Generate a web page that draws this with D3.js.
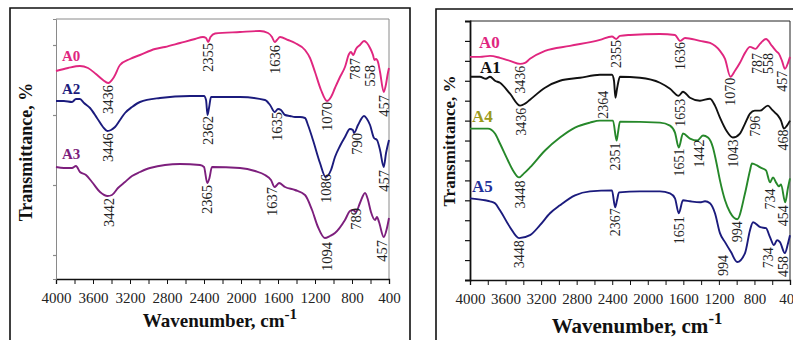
<!DOCTYPE html>
<html>
<head>
<meta charset="utf-8">
<script src="https://cdn.jsdelivr.net/npm/d3@7"></script>
<style>
  body { margin: 0; background: #fff; }
  svg { display: block; }
  text { font-family: "Liberation Serif", "Times New Roman", serif; }
</style>
</head>
<body>
<svg id="chart" width="793" height="340"></svg>
<script>
// ---------- data: FTIR spectra, [wavenumber cm-1, transmittance (offset, a.u.)] ----------
const wavenumberTicks = [4000, 3600, 3200, 2800, 2400, 2000, 1600, 1200, 800, 400];
const wavenumberMinorTicks = [3800, 3400, 3000, 2600, 2200, 1800, 1400, 1000, 600];

// left panel
const leftA0 = [[4000,104],[3870,105.5],[3741,106.5],[3654,105.5],[3568,102.5],[3492,99.5],[3436,98],[3373,101],[3308,107],[3200,110],[3092,112],[2930,115],[2822,116],[2659,118],[2497,120],[2411,121],[2378,120.5],[2355,118.5],[2330,121],[2281,122.75],[2011,123.5],[1795,124],[1708,123],[1665,121],[1636,118.5],[1611,119.5],[1578,121],[1492,119.5],[1416,118],[1308,114.5],[1254,110.5],[1200,103.5],[1135,94.5],[1070,89],[1027,91],[984,95.5],[930,101],[876,106],[832,112.5],[811,113.5],[787,112],[757,115],[714,117],[670,119],[638,118],[605,115.5],[573,112],[558,109.5],[541,110],[519,108.5],[497,103.5],[457,93.5],[432,97.5],[416,102],[400,105.5]];
const leftA2 = [[4000,89],[3914,89],[3827,88.5],[3784,90],[3741,90],[3697,88],[3632,85.5],[3557,80.5],[3492,76],[3446,74],[3405,74.5],[3362,76],[3308,79.5],[3254,83],[3178,86],[3092,88.5],[2876,90.5],[2551,91.5],[2400,91.5],[2378,89.5],[2362,82],[2346,85.5],[2324,91],[2011,91],[1741,89.5],[1686,87],[1635,83.5],[1600,85],[1568,84.5],[1524,82],[1470,81.5],[1416,81],[1362,81],[1308,80.5],[1276,77],[1222,69.5],[1146,58],[1086,51],[1027,54.5],[984,61],[930,66.5],[876,71],[822,75],[790,74.5],[778,73],[735,77],[670,81.5],[638,80],[605,77],[562,70.5],[530,69.5],[497,64.5],[457,56],[432,63],[400,69.5]];
const leftA3 = [[4000,56],[3914,55.5],[3827,55.5],[3784,56.5],[3741,53.5],[3676,52],[3611,48.5],[3524,43.5],[3442,41.5],[3395,42],[3330,45.5],[3254,48.5],[3178,51.5],[3092,53.5],[2984,55.5],[2659,57.5],[2443,57],[2400,56],[2365,48],[2341,50.5],[2314,56],[2011,55.5],[1849,54],[1741,52],[1676,49.5],[1637,46],[1611,47],[1589,48],[1524,46],[1416,44.5],[1308,42],[1232,34.5],[1168,26],[1094,20.5],[1038,21.5],[984,23],[876,29.5],[822,34],[789,34.5],[757,33.5],[714,38],[659,43],[627,39.5],[595,33.5],[551,29.5],[530,31],[508,28.5],[457,21],[422,25.5],[400,30.5]];

// right panel
const rightA0 = [[4000,112],[3888,112],[3775,112.5],[3663,111.5],[3550,110],[3436,108.5],[3381,109],[3325,111],[3156,115],[2875,117.5],[2538,120.5],[2403,122.25],[2355,121],[2313,122.5],[2200,123],[1863,123.5],[1694,123],[1636,120],[1581,121.5],[1413,120],[1300,119],[1188,115],[1131,111],[1070,102],[1019,105],[963,109],[906,114],[850,117],[787,116],[738,118.5],[670,121],[603,117.5],[558,115],[524,113.5],[490,110],[457,106],[422,109],[400,112]];
const rightA1 = [[4000,102],[3888,102],[3820,101],[3775,102],[3719,100],[3663,99],[3550,93.5],[3436,87.5],[3381,88.5],[3325,90.5],[3156,96.5],[2988,100],[2763,101.5],[2538,103],[2403,103],[2380,100],[2364,91.5],[2346,96],[2313,102],[2088,101.5],[1863,99],[1750,96],[1653,92.5],[1604,94.5],[1525,91.5],[1413,90],[1300,91],[1244,87.5],[1188,81.5],[1109,74.5],[1043,71.5],[963,73.5],[906,78.5],[850,83.5],[796,85],[738,85],[648,87.5],[603,85.5],[569,84],[535,82.5],[501,80],[468,76],[434,77.5],[400,80]];
const rightA4 = [[4000,76],[3888,76],[3798,76],[3719,73.5],[3663,68.5],[3573,60],[3516,55],[3448,51.5],[3393,53.5],[3325,56.5],[3156,65],[2988,71.5],[2819,76.5],[2650,79],[2538,80],[2391,80],[2351,70],[2335,74],[2313,79.5],[1863,79],[1750,77.5],[1694,74],[1651,66.5],[1604,73.5],[1525,71],[1442,70],[1379,72.5],[1323,71.5],[1267,66.5],[1233,60],[1188,50],[1131,40],[1075,34],[994,30.5],[906,43.5],[850,55],[828,58.5],[771,57.5],[734,56.5],[670,55],[625,49],[591,51.5],[558,49],[524,47],[501,48],[454,39],[422,46.5],[400,51]];
const rightA5 = [[4000,41],[3831,40],[3775,39.5],[3719,38.5],[3663,35],[3550,26.5],[3448,21],[3325,22.5],[3213,27.5],[3100,33.5],[2988,37.5],[2819,42.5],[2650,44.5],[2403,45],[2367,36.5],[2346,40],[2324,44],[2088,44.5],[1863,44.5],[1750,43.5],[1694,41],[1651,33.5],[1604,40],[1525,39.5],[1413,39],[1356,39.5],[1300,38.5],[1244,33.5],[1188,23.5],[1131,19],[1064,14],[994,9],[906,13.5],[850,25],[816,29],[734,26.5],[670,26],[625,21.5],[580,17.5],[546,20],[513,19],[458,13.5],[422,18.5],[400,22.5]];

// series names and annotated band positions (cm-1)
const leftNames = ["A0", "A2", "A3"];
const rightNames = ["A0", "A1", "A4", "A5"];
const leftBands = {
  A0: [3436, 2355, 1636, 1070, 787, 558, 457],
  A2: [3446, 2362, 1635, 1086, 790, 457],
  A3: [3442, 2365, 1637, 1094, 789, 457]
};
const rightBands = {
  A0: [3436, 2355, 1636, 1070, 787, 558, 457],
  A1: [3436, 2364, 1653, 1043, 796, 468],
  A4: [3448, 2351, 1651, 1442, 994, 734, 454],
  A5: [3448, 2367, 1651, 994, 734, 458]
};
const leftYTicks = [12, 47, 82, 117];
const rightYTicks = [10, 20, 30, 40, 50, 60, 70, 80, 90, 100, 110, 120];

// ---------- drawing ----------
const svg = d3.select("#chart");
const serif = '"Liberation Serif", "Times New Roman", serif';

const lineColor = { A0: "#e0267f", A1: "#111111", A2: "#1b1b7d", A3: "#7d1f7d", A4: "#26882a", A5: "#1b1b7d" };
const nameColor = { A0: "#e0267f", A1: "#111111", A2: "#1b1b7d", A3: "#7d1f7d", A4: "#9c9a1c", A5: "#23309a" };

// band label placement: [dx px, gap below the curve px]
const bandNudge = {
  "L:A0:787": [2, 3], "L:A0:558": [-4, 5], "L:A0:457": [0, 3], "L:A0:1636": [0, 3], "L:A0:2355": [0, 1], "L:A0:1070": [0, 1],
  "L:A2:3446": [1, 2], "L:A2:2362": [0, 1], "L:A2:1635": [2, 0], "L:A2:1086": [0, -3], "L:A2:790": [4, 3], "L:A2:457": [0, 3],
  "L:A3:3442": [1, 2], "L:A3:2365": [0, 2], "L:A3:1637": [-3, 0], "L:A3:1094": [2, 4], "L:A3:789": [3, -2], "L:A3:457": [-2, 3],
  "R:A0:2355": [0, 1], "R:A0:1636": [0, 1], "R:A0:1070": [0, 1], "R:A0:787": [1.5, 4], "R:A0:558": [-8, 2], "R:A0:457": [-3, 2],
  "R:A1:3436": [1, 2], "R:A1:2364": [-12, -7], "R:A1:1653": [1.5, 3], "R:A1:796": [0, 5], "R:A1:468": [-1, 1],
  "R:A4:3448": [1, 3], "R:A4:2351": [-1, 2], "R:A4:1651": [0, 1], "R:A4:1442": [1.5, -1], "R:A4:734": [10, 21], "R:A4:454": [-2, 3],
  "R:A5:2367": [0, 1], "R:A5:1651": [0, 3], "R:A5:994": [-14, -7], "R:A5:734": [8, 20], "R:A5:458": [-2, 3]
};

function valueAt(series, wn) {
  for (let i = 0; i < series.length - 1; i++) {
    const [w0, v0] = series[i], [w1, v1] = series[i + 1];
    if (wn <= w0 && wn >= w1) return v0 + (v1 - v0) * (w0 - wn) / (w0 - w1);
  }
  return series[series.length - 1][1];
}

function drawPanel(cfg) {
  const x = d3.scaleLinear().domain([4000, 400]).range([cfg.left, cfg.right]);
  const y = d3.scaleLinear().domain([0, 130]).range([cfg.bottom, cfg.top]);
  const g = svg.append("g");

  // outer panel border
  g.append("path")
    .attr("d", `M${cfg.boxLeft},345 V${cfg.boxTop} H${cfg.boxRight}` + (cfg.boxRight < 793 ? " V345" : ""))
    .attr("fill", "none").attr("stroke", "#111").attr("stroke-width", 1.6);

  // plot frame (top and right)
  g.append("path")
    .attr("d", `M${cfg.left},${cfg.top} H${cfg.right} V${cfg.bottom}`)
    .attr("fill", "none").attr("stroke", cfg.frameColor).attr("stroke-width", 1);

  // x axis
  const xAxis = d3.axisBottom(x)
    .tickValues(wavenumberTicks.concat(wavenumberMinorTicks))
    .tickSize(5)
    .tickFormat(d => wavenumberTicks.includes(d) ? d : "");
  const gx = g.append("g").attr("transform", `translate(0,${cfg.bottom})`).call(xAxis);
  gx.select(".domain").attr("stroke", "#111").attr("stroke-width", 1.3);
  gx.selectAll(".tick line").attr("stroke", "#111").attr("stroke-width", 1);
  gx.selectAll(".tick text").attr("font-family", serif).attr("font-size", 15).attr("fill", "#222").attr("dy", "1.05em");

  // y axis (no labels)
  const yAxis = d3.axisLeft(y).tickValues(cfg.yTicks).tickSize(cfg.yTickSize).tickFormat("");
  const gy = g.append("g").attr("transform", `translate(${cfg.left},0)`).call(yAxis);
  gy.select(".domain").attr("stroke", cfg.yAxisColor).attr("stroke-width", cfg.yAxisWidth);
  gy.selectAll(".tick line").attr("stroke", cfg.yAxisColor).attr("stroke-width", 1.2);

  // spectra
  const line = d3.line().x(d => x(d[0])).y(d => y(d[1])).curve(d3.curveMonotoneX);
  cfg.names.forEach(name => {
    const data = cfg.series[name];
    g.append("path").datum(data).attr("d", line)
      .attr("fill", "none").attr("stroke", lineColor[name]).attr("stroke-width", 1.9)
      .attr("stroke-linejoin", "round");

    // series name
    g.append("text")
      .attr("x", cfg.left + cfg.nameDx[name])
      .attr("y", y(data[0][1]) - cfg.nameDy[name])
      .attr("font-family", serif).attr("font-weight", "bold").attr("font-size", cfg.nameSize)
      .attr("fill", nameColor[name]).text(name);

    // band labels
    cfg.bands[name].forEach(wn => {
      const nudge = bandNudge[`${cfg.id}:${name}:${wn}`] || [0, 2];
      const px = x(wn) + nudge[0];
      const py = y(valueAt(data, wn)) + nudge[1];
      g.append("text")
        .attr("transform", `translate(${px},${py}) rotate(-90)`)
        .attr("text-anchor", "end").attr("dy", "0.35em")
        .attr("font-family", serif).attr("font-size", cfg.bandSize).attr("fill", "#222")
        .text(wn);
    });
  });

  // axis titles
  g.append("text")
    .attr("transform", `translate(${cfg.yTitleX},${cfg.yTitleY}) rotate(-90)`)
    .attr("text-anchor", "middle")
    .attr("font-family", serif).attr("font-weight", "bold").attr("font-size", cfg.yTitleSize).attr("fill", "#111")
    .text("Transmittance, %");

  const xt = g.append("text")
    .attr("x", cfg.xTitleX).attr("y", cfg.xTitleY).attr("text-anchor", "middle")
    .attr("font-family", serif).attr("font-weight", "bold").attr("font-size", cfg.xTitleSize).attr("fill", "#111");
  xt.append("tspan").text("Wavenumber, cm");
  xt.append("tspan").attr("dy", -cfg.xTitleSize * 0.42).attr("font-size", cfg.xTitleSize * 0.8).text("-1");
}

drawPanel({
  id: "L",
  left: 56, right: 389, top: 19, bottom: 279,
  boxLeft: 10, boxTop: 8, boxRight: 410,
  frameColor: "#8a8a8a", yAxisColor: "#8a8a8a", yAxisWidth: 1, yTickSize: 3,
  yTicks: leftYTicks,
  names: leftNames,
  series: { A0: leftA0, A2: leftA2, A3: leftA3 },
  bands: leftBands,
  nameDx: { A0: 6, A2: 6, A3: 6 },
  nameDy: { A0: 10, A2: 7, A3: 8 },
  nameSize: 15, bandSize: 14.5,
  yTitleX: 32, yTitleY: 152, yTitleSize: 18,
  xTitleX: 220, xTitleY: 327, xTitleSize: 19
});

drawPanel({
  id: "R",
  left: 470, right: 790, top: 21, bottom: 280,
  boxLeft: 436, boxTop: 9, boxRight: 800,
  frameColor: "#222", yAxisColor: "#111", yAxisWidth: 1.8, yTickSize: 5,
  yTicks: rightYTicks,
  names: rightNames,
  series: { A0: rightA0, A1: rightA1, A4: rightA4, A5: rightA5 },
  bands: rightBands,
  nameDx: { A0: 9, A1: 10, A4: 2, A5: 2 },
  nameDy: { A0: 9, A1: 4, A4: 7, A5: 6 },
  nameSize: 17, bandSize: 14,
  yTitleX: 455, yTitleY: 141, yTitleSize: 17,
  xTitleX: 637, xTitleY: 333, xTitleSize: 21
});
</script>
</body>
</html>
